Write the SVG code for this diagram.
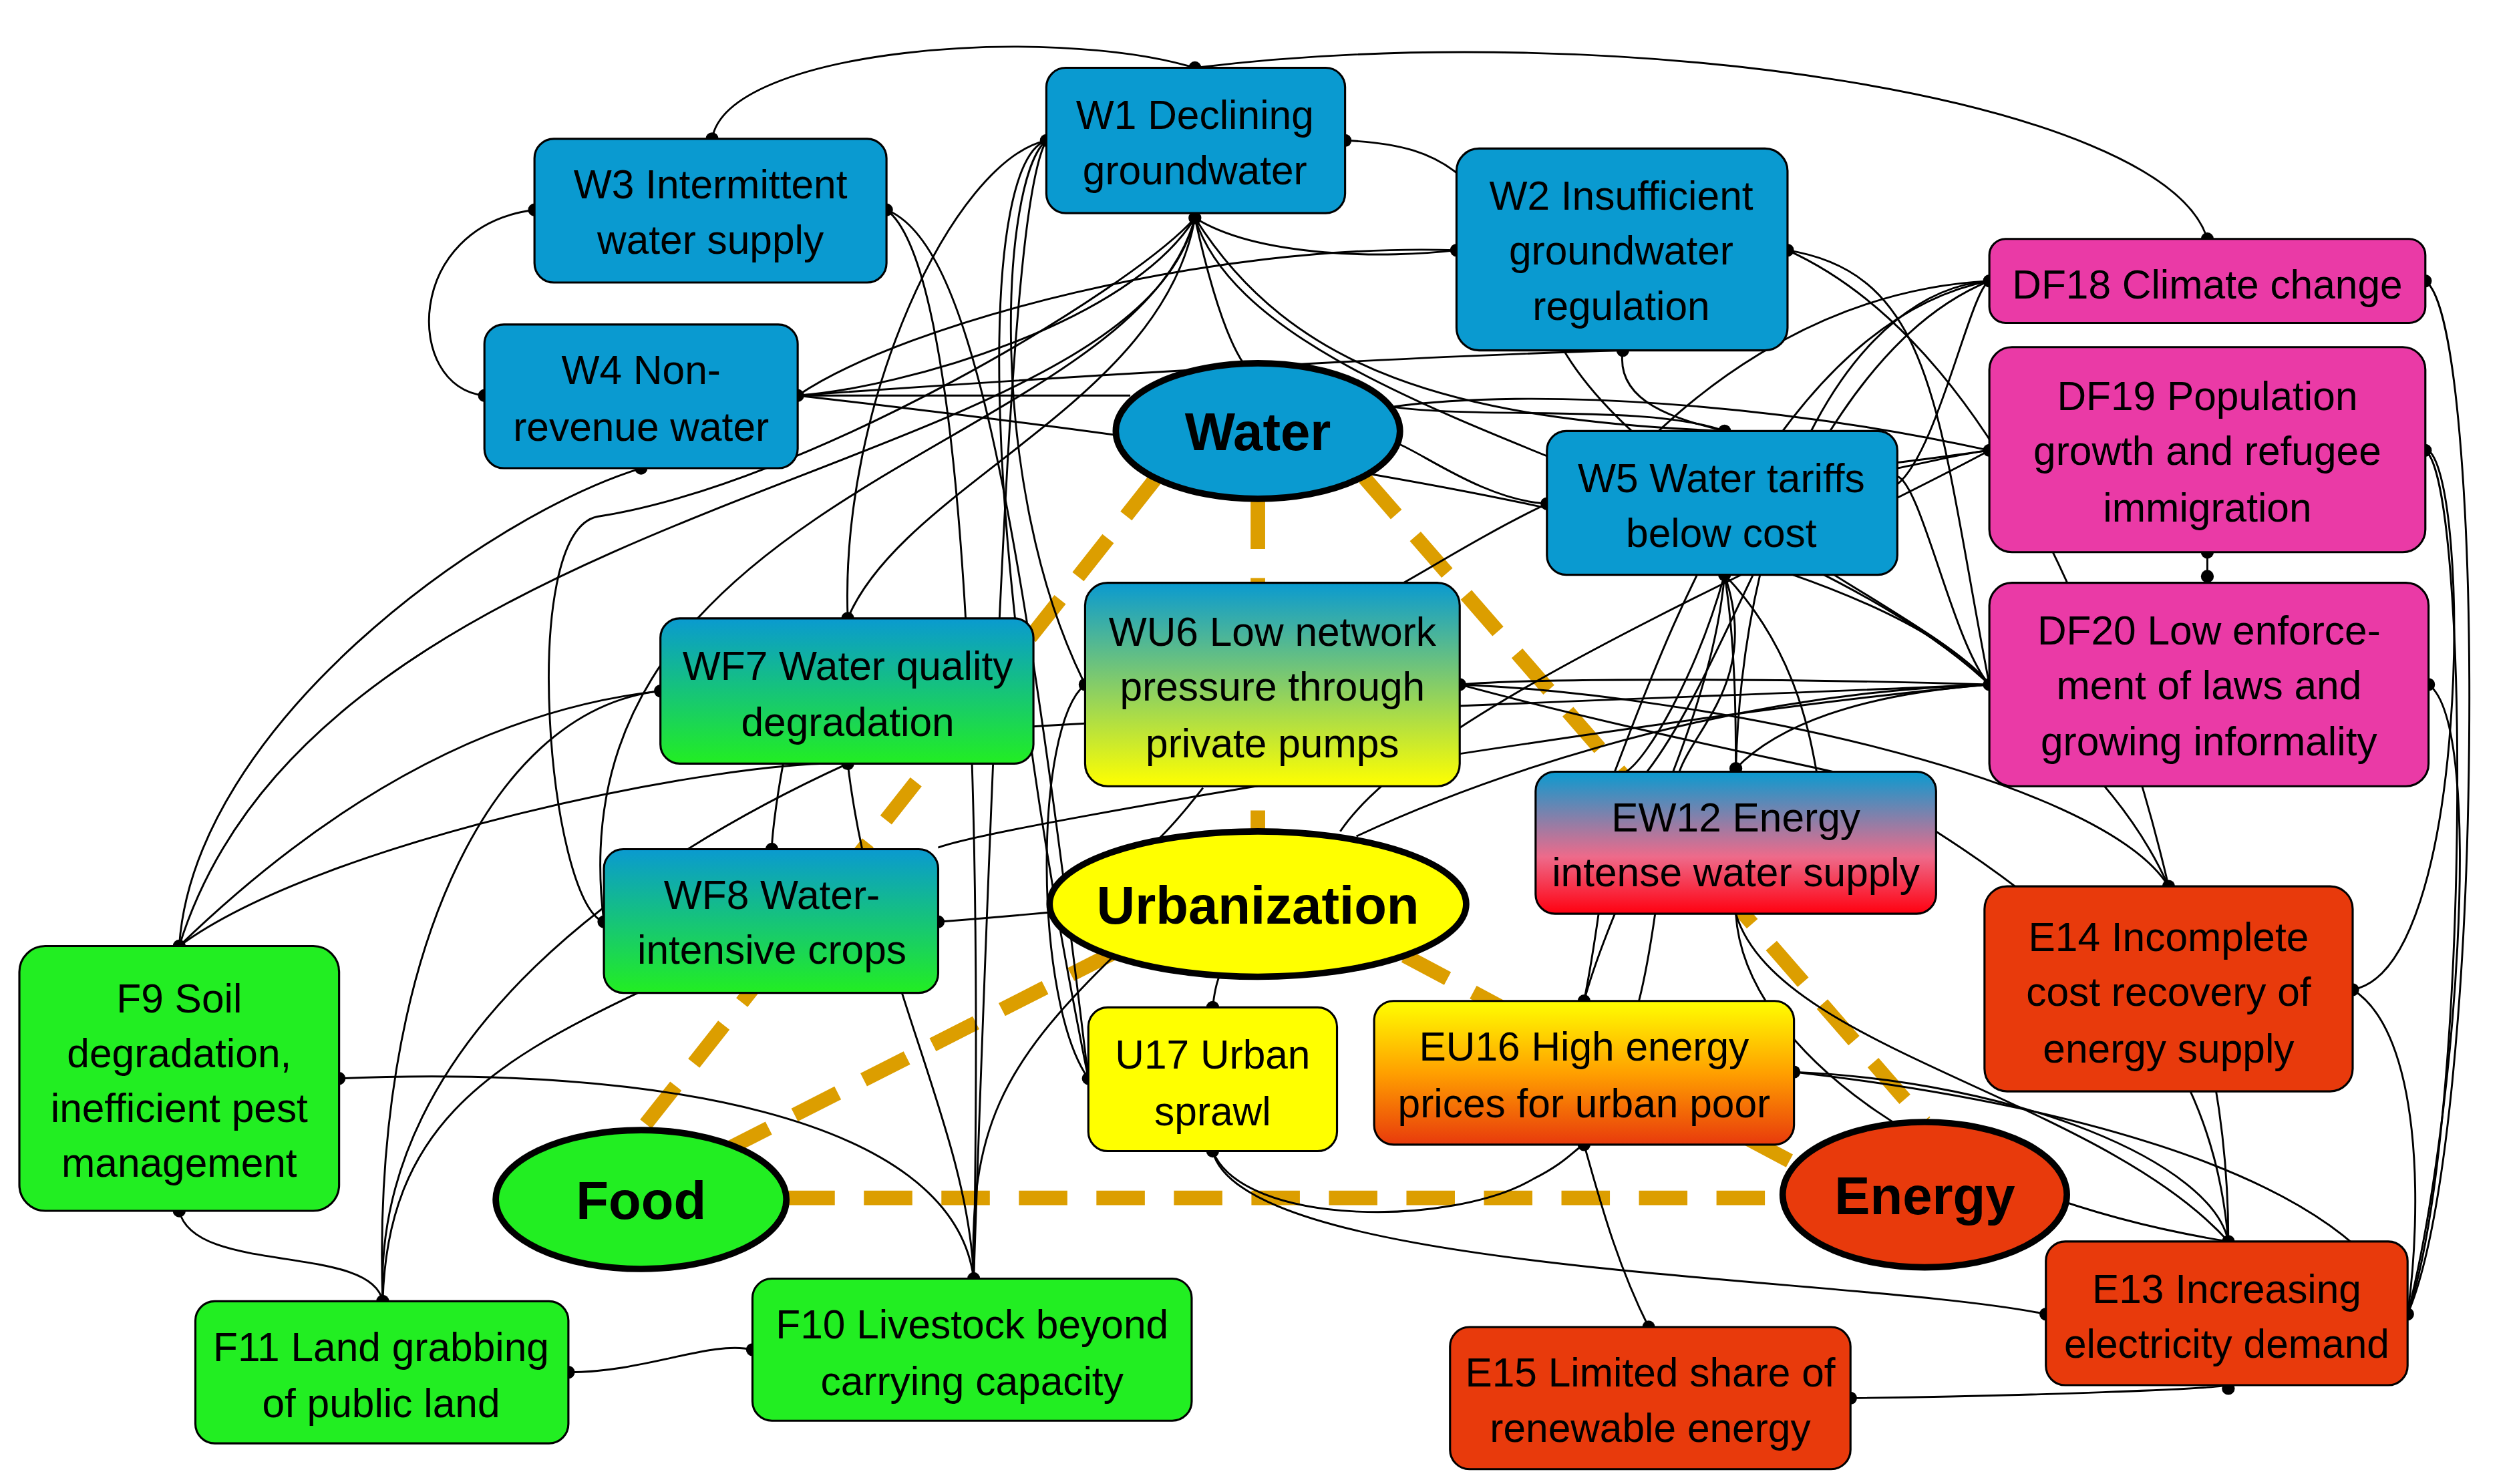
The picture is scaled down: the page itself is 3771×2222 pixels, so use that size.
<svg xmlns="http://www.w3.org/2000/svg" width="3771" height="2222" viewBox="0 0 3771 2222">
<style>
.n{stroke:#000;stroke-width:1.3}
.t{font-family:"Liberation Sans Narrow","Liberation Sans",Arial,sans-serif;font-size:25px;text-anchor:middle;fill:#000}
.b{font-family:"Liberation Sans Narrow","Liberation Sans",Arial,sans-serif;font-size:33px;font-weight:bold;text-anchor:middle;fill:#000}
.e{stroke:#000;stroke-width:4}
.d{stroke:#dc9e00;stroke-width:9;stroke-dasharray:30 18;fill:none}
#conn path{fill:none;stroke:#000;stroke-width:1.2}
.blue{fill:#0a9ad0}.pink{fill:#ea3aa6}.red{fill:#e83a0c}.green{fill:#22ee22}.yel{fill:#ffff00}
</style>
<defs>
<linearGradient id="gBY" x1="0" y1="0" x2="0" y2="1"><stop offset="0" stop-color="#0a9ad0"/><stop offset="1" stop-color="#ffff00"/></linearGradient>
<linearGradient id="gBG" x1="0" y1="0" x2="0" y2="1"><stop offset="0" stop-color="#0a9ad0"/><stop offset="1" stop-color="#22ee22"/></linearGradient>
<linearGradient id="gBR" x1="0" y1="0" x2="0" y2="1"><stop offset="0" stop-color="#0a9ad0"/><stop offset="0.6" stop-color="#ee6a8a"/><stop offset="1" stop-color="#ff0010"/></linearGradient>
<linearGradient id="gYR" x1="0" y1="0" x2="0" y2="1"><stop offset="0" stop-color="#ffff00"/><stop offset="0.5" stop-color="#ffa000"/><stop offset="1" stop-color="#e83a0c"/></linearGradient>
</defs>
<rect width="3771" height="2222" fill="#fff"/>
<g transform="scale(2.4173)">
<g id="nexus">
<path class="d" d="M779 310 V515 M716 296 L397 700 M845 296 L1192 695 M690 590 L450 712 M870 592 L1110 720 M487 742 H1104"/>
</g>
<g id="conn">
<path d="M441 86 C450 30 650 15 740 42"/>
<path d="M740 42 C1000 10 1340 60 1367 148"/>
<path d="M331 130 C250 140 250 240 300 245"/>
<path d="M740 135 C700 200 560 240 494 245"/>
<path d="M740 135 C750 180 760 210 770 225"/>
<path d="M740 135 C800 230 900 260 1068 267"/>
<path d="M740 135 C700 300 200 300 111 586"/>
<path d="M740 135 C700 280 340 300 374 571"/>
<path d="M740 135 C780 260 1100 300 1232 424"/>
<path d="M740 135 C780 160 860 160 902 155"/>
<path d="M740 135 C720 250 560 300 525 383"/>
<path d="M648 87 C590 100 520 250 525 383"/>
<path d="M648 87 C610 100 600 300 674 668"/>
<path d="M648 87 C620 110 610 300 672 424"/>
<path d="M648 87 C630 120 620 300 603 792"/>
<path d="M833 87 C900 90 920 110 960 200 C1000 300 1200 380 1232 424"/>
<path d="M902 155 C750 150 560 200 494 245"/>
<path d="M1107 155 C1200 170 1200 260 1232 424"/>
<path d="M1107 155 C1250 220 1320 450 1343 549"/>
<path d="M1005 217 C1000 250 1040 260 1068 267"/>
<path d="M549 130 C600 150 630 300 674 668"/>
<path d="M549 130 C590 160 610 400 603 792"/>
<path d="M494 245 H700"/>
<path d="M494 245 C700 230 900 220 1005 217"/>
<path d="M494 245 C800 280 1150 330 1232 424"/>
<path d="M397 290 C300 320 120 450 111 586"/>
<path d="M862 252 C920 260 1020 250 1068 267"/>
<path d="M958 312 C920 310 880 280 866 275"/>
<path d="M958 312 C900 340 860 370 830 380"/>
<path d="M1068 356 C1050 420 1020 470 1007 478"/>
<path d="M1068 356 C1075 400 1075 450 1075 476"/>
<path d="M1068 356 C1060 450 1000 550 981 620"/>
<path d="M1068 356 C1110 400 1120 450 1125 478"/>
<path d="M1068 356 C1090 420 1050 450 1040 478"/>
<path d="M1175 300 C1200 280 1220 180 1232 174"/>
<path d="M1175 290 C1200 285 1220 280 1232 279"/>
<path d="M1175 295 C1190 300 1210 400 1232 424"/>
<path d="M1232 174 C1150 180 1080 300 1075 476"/>
<path d="M1232 174 C1100 200 1030 400 1000 478"/>
<path d="M1232 174 C1120 180 1040 250 1005 290"/>
<path d="M1232 174 C1120 220 1080 400 1020 478"/>
<path d="M1232 279 C1150 290 1100 300 1068 267"/>
<path d="M1232 279 C1100 250 950 240 862 252"/>
<path d="M1232 279 C1100 350 880 440 830 515"/>
<path d="M1502 174 C1540 200 1540 700 1491 814"/>
<path d="M1502 279 C1530 300 1530 700 1491 814"/>
<path d="M1504 424 C1540 450 1520 700 1491 814"/>
<path d="M1457 613 C1530 600 1530 300 1504 279"/>
<path d="M1367 342 V357"/>
<path d="M1232 424 C1100 420 950 420 904 424"/>
<path d="M1232 424 C1100 430 800 440 640 450"/>
<path d="M1232 424 C1150 430 1100 450 1075 476"/>
<path d="M1232 424 C1050 430 900 490 840 518"/>
<path d="M1232 424 C1050 440 620 510 581 525"/>
<path d="M1232 424 C1300 470 1330 520 1343 549"/>
<path d="M904 424 C1050 430 1300 480 1343 549"/>
<path d="M904 424 C1000 450 1100 470 1135 478"/>
<path d="M672 424 C640 450 640 620 674 668"/>
<path d="M409 428 C300 440 200 500 111 586"/>
<path d="M409 428 C300 440 230 600 237 806"/>
<path d="M525 473 C450 470 200 520 111 586"/>
<path d="M525 473 C540 600 600 700 603 792"/>
<path d="M525 473 C400 530 230 640 237 806"/>
<path d="M485 473 C480 500 478 520 478 526"/>
<path d="M581 571 C620 568 640 566 652 565"/>
<path d="M374 571 C340 560 320 330 370 320 C500 300 700 180 740 135"/>
<path d="M395 615 C300 660 240 700 237 806"/>
<path d="M745 488 C720 520 700 540 690 530"/>
<path d="M690 592 C620 660 600 700 603 792"/>
<path d="M751 624 C752 615 753 610 755 605"/>
<path d="M210 668 C400 660 590 690 603 792"/>
<path d="M111 750 C120 790 230 770 237 806"/>
<path d="M352 850 C400 850 440 830 466 836"/>
<path d="M751 713 C770 760 900 760 950 730 C970 720 975 712 981 709"/>
<path d="M751 713 C770 790 1150 790 1267 814"/>
<path d="M981 709 C990 740 1000 780 1021 822"/>
<path d="M1111 664 C1250 670 1370 720 1380 769"/>
<path d="M1111 664 C1250 680 1450 720 1491 814"/>
<path d="M1075 566 C1100 650 1300 680 1380 769"/>
<path d="M1075 566 C1080 650 1200 740 1380 769"/>
<path d="M1199 515 C1300 580 1370 650 1380 769"/>
<path d="M1343 549 C1370 650 1380 700 1380 769"/>
<path d="M1457 613 C1500 640 1500 750 1491 814"/>
<path d="M1146 866 C1250 865 1380 860 1380 858"/>
<path d="M981 620 C985 600 988 580 990 566"/>
<path d="M1015 620 C1020 600 1023 580 1025 566"/>
</g>
<g id="dots" fill="#000">
<circle cx="740" cy="42" r="4"/><circle cx="441" cy="86" r="4"/><circle cx="1367" cy="148" r="4"/>
<circle cx="331" cy="130" r="4"/><circle cx="300" cy="245" r="4"/><circle cx="740" cy="135" r="4"/>
<circle cx="648" cy="87" r="4"/><circle cx="833" cy="87" r="4"/><circle cx="902" cy="155" r="4"/>
<circle cx="1107" cy="155" r="4"/><circle cx="549" cy="130" r="4"/><circle cx="494" cy="245" r="4"/>
<circle cx="1068" cy="267" r="4"/><circle cx="958" cy="312" r="4"/><circle cx="1232" cy="174" r="4"/>
<circle cx="1502" cy="174" r="4"/><circle cx="1232" cy="279" r="4"/><circle cx="1502" cy="279" r="4"/>
<circle cx="1367" cy="342" r="4"/><circle cx="1367" cy="357" r="4"/><circle cx="1232" cy="424" r="4"/>
<circle cx="1504" cy="424" r="4"/><circle cx="904" cy="424" r="4"/><circle cx="672" cy="424" r="4"/>
<circle cx="525" cy="383" r="4"/><circle cx="409" cy="428" r="4"/><circle cx="525" cy="473" r="4"/>
<circle cx="478" cy="526" r="4"/><circle cx="374" cy="571" r="4"/><circle cx="581" cy="571" r="4"/>
<circle cx="1075" cy="476" r="4"/><circle cx="1343" cy="549" r="4"/><circle cx="1457" cy="613" r="4"/>
<circle cx="111" cy="586" r="4"/><circle cx="210" cy="668" r="4"/><circle cx="111" cy="750" r="4"/>
<circle cx="751" cy="624" r="4"/><circle cx="674" cy="668" r="4"/><circle cx="751" cy="713" r="4"/>
<circle cx="981" cy="620" r="4"/><circle cx="981" cy="709" r="4"/><circle cx="1111" cy="664" r="4"/>
<circle cx="1380" cy="769" r="4"/><circle cx="1267" cy="814" r="4"/><circle cx="1491" cy="814" r="4"/>
<circle cx="1021" cy="822" r="4"/><circle cx="1146" cy="866" r="4"/><circle cx="1380" cy="860" r="4"/>
<circle cx="603" cy="792" r="4"/><circle cx="466" cy="836" r="4"/><circle cx="237" cy="806" r="4"/>
<circle cx="352" cy="850" r="4"/><circle cx="1005" cy="217" r="4"/><circle cx="397" cy="290" r="4"/>
<circle cx="1068" cy="356" r="4"/>
</g>
<g id="W1"><rect class="n blue" x="648" y="42" width="185" height="90" rx="12"/><text class="t" x="740" y="80">W1 Declining</text><text class="t" x="740" y="114">groundwater</text></g>
<g id="W2"><rect class="n blue" x="902" y="92" width="205" height="125" rx="14"/><text class="t" x="1004" y="130">W2 Insufficient</text><text class="t" x="1004" y="164">groundwater</text><text class="t" x="1004" y="198">regulation</text></g>
<g id="W3"><rect class="n blue" x="331" y="86" width="218" height="89" rx="12"/><text class="t" x="440" y="123">W3 Intermittent</text><text class="t" x="440" y="157">water supply</text></g>
<g id="W4"><rect class="n blue" x="300" y="201" width="194" height="89" rx="12"/><text class="t" x="397" y="238">W4 Non-</text><text class="t" x="397" y="273">revenue water</text></g>
<g id="W5"><rect class="n blue" x="958" y="267" width="217" height="89" rx="12"/><text class="t" x="1066" y="305">W5 Water tariffs</text><text class="t" x="1066" y="339">below cost</text></g>
<g id="DF18"><rect class="n pink" x="1232" y="148" width="270" height="52" rx="10"/><text class="t" x="1367" y="185">DF18 Climate change</text></g>
<g id="DF19"><rect class="n pink" x="1232" y="215" width="270" height="127" rx="14"/><text class="t" x="1367" y="254">DF19 Population</text><text class="t" x="1367" y="288">growth and refugee</text><text class="t" x="1367" y="323">immigration</text></g>
<g id="DF20"><rect class="n pink" x="1232" y="361" width="272" height="126" rx="14"/><text class="t" x="1368" y="399">DF20 Low enforce-</text><text class="t" x="1368" y="433">ment of laws and</text><text class="t" x="1368" y="468">growing informality</text></g>
<g id="WU6"><rect class="n" fill="url(#gBY)" x="672" y="361" width="232" height="126" rx="14"/><text class="t" x="788" y="400">WU6 Low network</text><text class="t" x="788" y="434">pressure through</text><text class="t" x="788" y="469">private pumps</text></g>
<g id="WF7"><rect class="n" fill="url(#gBG)" x="409" y="383" width="231" height="90" rx="12"/><text class="t" x="525" y="421">WF7 Water quality</text><text class="t" x="525" y="456">degradation</text></g>
<g id="WF8"><rect class="n" fill="url(#gBG)" x="374" y="526" width="207" height="89" rx="12"/><text class="t" x="478" y="563">WF8 Water-</text><text class="t" x="478" y="597">intensive crops</text></g>
<g id="EW12"><rect class="n" fill="url(#gBR)" x="951" y="478" width="248" height="88" rx="12"/><text class="t" x="1075" y="515">EW12 Energy</text><text class="t" x="1075" y="549">intense water supply</text></g>
<g id="E14"><rect class="n red" x="1229" y="549" width="228" height="127" rx="14"/><text class="t" x="1343" y="589">E14 Incomplete</text><text class="t" x="1343" y="623">cost recovery of</text><text class="t" x="1343" y="658">energy supply</text></g>
<g id="F9"><rect class="n green" x="12" y="586" width="198" height="164" rx="16"/><text class="t" x="111" y="627">F9 Soil</text><text class="t" x="111" y="661">degradation,</text><text class="t" x="111" y="695">inefficient pest</text><text class="t" x="111" y="729">management</text></g>
<g id="U17"><rect class="n yel" x="674" y="624" width="154" height="89" rx="12"/><text class="t" x="751" y="662">U17 Urban</text><text class="t" x="751" y="697">sprawl</text></g>
<g id="EU16"><rect class="n" fill="url(#gYR)" x="851" y="620" width="260" height="89" rx="12"/><text class="t" x="981" y="657">EU16 High energy</text><text class="t" x="981" y="692">prices for urban poor</text></g>
<g id="E13"><rect class="n red" x="1267" y="769" width="224" height="89" rx="12"/><text class="t" x="1379" y="807">E13 Increasing</text><text class="t" x="1379" y="841">electricity demand</text></g>
<g id="E15"><rect class="n red" x="898" y="822" width="248" height="88" rx="12"/><text class="t" x="1022" y="859">E15 Limited share of</text><text class="t" x="1022" y="893">renewable energy</text></g>
<g id="F10"><rect class="n green" x="466" y="792" width="272" height="88" rx="12"/><text class="t" x="602" y="829">F10 Livestock beyond</text><text class="t" x="602" y="864">carrying capacity</text></g>
<g id="F11"><rect class="n green" x="121" y="806" width="231" height="88" rx="12"/><text class="t" x="236" y="843">F11 Land grabbing</text><text class="t" x="236" y="878">of public land</text></g>
<g id="Water"><ellipse class="e blue" cx="779" cy="267" rx="88" ry="42"/><text class="b" x="779" y="279">Water</text></g>
<g id="Urbanization"><ellipse class="e yel" cx="779" cy="560" rx="129" ry="45"/><text class="b" x="779" y="572">Urbanization</text></g>
<g id="Food"><ellipse class="e green" cx="397" cy="743" rx="90" ry="43"/><text class="b" x="397" y="755">Food</text></g>
<g id="Energy"><ellipse class="e red" cx="1192" cy="740" rx="88" ry="45"/><text class="b" x="1192" y="752">Energy</text></g>
</g>
</svg>
